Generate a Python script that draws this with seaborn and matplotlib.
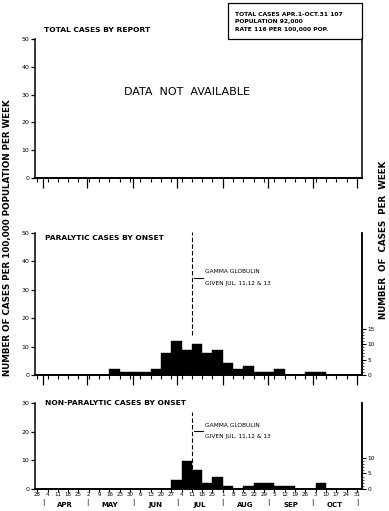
import numpy as np
import pandas as pd
import matplotlib
matplotlib.use("Agg")
import matplotlib.pyplot as plt
import seaborn as sns
from matplotlib.patches import Rectangle
from matplotlib.ticker import MultipleLocator, FixedLocator

sns.set_theme(style="white")
plt.rcParams["font.family"] = ["DejaVu Sans"]
plt.rcParams.update({"text.color": "black", "axes.labelcolor": "black",
                     "xtick.color": "black", "ytick.color": "black"})

# ---------------- data ----------------
week_labels = ["28", "4", "11", "18", "25", "2", "9", "16", "23", "30", "6", "13",
               "20", "27", "4", "11", "18", "25", "1", "8", "15", "22", "29", "5",
               "12", "19", "26", "3", "10", "17", "24", "31"]
month_names = ["APR", "MAY", "JUN", "JUL", "AUG", "SEP", "OCT"]
month_start_days = [4, 34, 65, 95, 126, 157, 187, 217]   # days after Mar 28
week_start_days = [0, 7, 14, 21, 28, 35, 42, 49, 56, 63, 70, 77, 84, 91, 98, 105,
                   112, 119, 126, 133, 140, 147, 154, 161, 168, 175, 182, 189,
                   196, 203, 210]
paralytic_cases = [0, 0, 0, 0, 0, 0, 0, 2, 1, 1, 1, 2, 7, 11, 8, 10, 7, 8, 4, 2,
                   3, 1, 1, 2, 0, 0, 1, 1, 0, 0, 0]
nonparalytic_cases = [0, 0, 0, 0, 0, 0, 0, 0, 0, 0, 0, 0, 0, 3, 9, 6, 2, 4, 1, 0,
                      1, 2, 2, 1, 1, 0, 0, 2, 0, 0, 0]
population = 92000
gamma_day = 105   # Jul 11
box_lines = ["TOTAL CASES APR.1-OCT.31 107", "POPULATION 92,000",
             "RATE 116 PER 100,000 POP."]

df = pd.DataFrame({
    "day": week_start_days,
    "paralytic": np.array(paralytic_cases) * 100000 / population,
    "nonparalytic": np.array(nonparalytic_cases) * 100000 / population,
})

W, H = 389, 511
fig = plt.figure(figsize=(W / 100, H / 100), dpi=100)
fig.patch.set_facecolor("white")

def frac_rect(x0, ytop, x1, ybot):
    return [x0 / W, 1 - ybot / H, (x1 - x0) / W, (ybot - ytop) / H]

ax1 = fig.add_axes(frac_rect(35, 39, 362, 178))
ax2 = fig.add_axes(frac_rect(35, 233, 362, 375))
ax3 = fig.add_axes(frac_rect(35, 403, 362, 489))

XL = (-1.5, 220.5)
lw = 1.1

def style_axis(ax, ymax, ystep):
    ax.set_xlim(*XL)
    ax.set_ylim(0, ymax)
    ax.set_facecolor("white")
    ax.spines["top"].set_visible(False)
    for s in ["left", "bottom", "right"]:
        ax.spines[s].set_color("black")
        ax.spines[s].set_linewidth(lw)
    ax.spines["bottom"].set_linewidth(1.4)
    ax.yaxis.set_major_locator(MultipleLocator(ystep))
    ax.tick_params(axis="y", which="major", direction="out", length=3, width=0.9,
                   labelsize=4.5, pad=1, colors="black", left=True, right=False)
    ax.set_xlabel("")
    ax.set_ylabel("")
    ax.grid(False)

def weekly_bars(col, ax):
    sns.histplot(data=df, x="day", weights=col, binwidth=7, binrange=(0, 217),
                 color="black", alpha=1, edgecolor="black", linewidth=0.3, ax=ax)

# panel 1
style_axis(ax1, 50, 10)
ax1.text(0.465, 0.62, "DATA  NOT  AVAILABLE", transform=ax1.transAxes,
         ha="center", va="center", fontsize=8, color="black")
ax1.text(4.5, 1.062, "TOTAL CASES BY REPORT", transform=ax1.get_xaxis_transform(),
         fontsize=5.4, weight="bold", va="center", color="black")

# panel 2
weekly_bars("paralytic", ax2)
style_axis(ax2, 50, 10)
ax2.text(5.5, 0.965, "PARALYTIC CASES BY ONSET", transform=ax2.get_xaxis_transform(),
         fontsize=5.4, weight="bold", va="center", color="black")
ax2.plot([gamma_day, gamma_day], [14, 50.3], ls=(0, (4, 2)), color="black", lw=0.8,
         clip_on=False)
ax2.plot([gamma_day + 1.5, gamma_day + 7.5], [34.2, 34.2], color="black", lw=0.8)
ax2.text(gamma_day + 9, 36.4, "GAMMA GLOBULIN", fontsize=4.2, va="center", color="black")
ax2.text(gamma_day + 9, 32.2, "GIVEN JUL. 11,12 & 13", fontsize=4.2, va="center",
         color="black")

# panel 3
weekly_bars("nonparalytic", ax3)
style_axis(ax3, 30, 10)
ax3.text(5.5, 1.0, "NON-PARALYTIC CASES BY ONSET", transform=ax3.get_xaxis_transform(),
         fontsize=5.4, weight="bold", va="center", color="black")
ax3.plot([gamma_day, gamma_day], [0, 27], ls=(0, (4, 2)), color="black", lw=0.8)
ax3.plot([gamma_day + 1.5, gamma_day + 7.5], [20.2, 20.2], color="black", lw=0.8)
ax3.text(gamma_day + 9, 22.2, "GAMMA GLOBULIN", fontsize=4.2, va="center", color="black")
ax3.text(gamma_day + 9, 18.3, "GIVEN JUL. 11,12 & 13", fontsize=4.2, va="center",
         color="black")

# x ticks
week_ticks = list(range(0, 218, 7))
for ax in (ax1, ax2):
    ax.xaxis.set_major_locator(FixedLocator(month_start_days))
    ax.xaxis.set_minor_locator(FixedLocator(week_ticks))
    ax.tick_params(axis="x", which="major", direction="out", length=7, width=0.9,
                   bottom=True, labelbottom=False, colors="black")
    ax.tick_params(axis="x", which="minor", direction="out", length=3, width=0.8,
                   bottom=True, colors="black")
ax3.set_xticks(week_ticks)
ax3.set_xticklabels(week_labels)
ax3.tick_params(axis="x", which="major", direction="out", length=2, width=0.8,
                bottom=True, labelsize=4, pad=0.5, colors="black")
xt = ax3.get_xaxis_transform()
for d in month_start_days:
    ax3.text(d, -0.155, "|", transform=xt, fontsize=5, ha="center", va="center",
             color="black")
for i, name in enumerate(month_names):
    c = (month_start_days[i] + month_start_days[i + 1]) / 2
    ax3.text(c, -0.19, name, transform=xt, fontsize=5, weight="bold",
             ha="center", va="center", color="black")

# right axes (number of cases)
for ax, ymax, tops in ((ax2, 50, 15), (ax3, 30, 10)):
    r = ax.twinx()
    r.set_ylim(0, ymax * population / 100000)
    r.set_yticks(list(range(0, tops + 1, 5)))
    r.yaxis.set_minor_locator(FixedLocator(list(range(0, tops + 1))))
    r.tick_params(axis="y", which="major", direction="out", length=3, width=0.8,
                  labelsize=4.2, pad=1, colors="black")
    r.tick_params(axis="y", which="minor", direction="out", length=1.5, width=0.5,
                  colors="black")
    for s in ["top", "left", "bottom"]:
        r.spines[s].set_visible(False)
    r.spines["right"].set_linewidth(lw)
    r.spines["right"].set_color("black")
    r.grid(False)
    r.set_ylabel("")

# info box
fig.add_artist(Rectangle((228 / W, 1 - 39 / H), (362 - 228) / W, 36 / H,
                         transform=fig.transFigure, fill=False, lw=0.9,
                         ec="black"))
for i, t in enumerate(box_lines):
    fig.text(235 / W, 1 - (14 + 8 * i) / H, t, fontsize=4.3, weight="bold",
             va="center", color="black")

fig.text(8 / W, 1 - 238 / H, "NUMBER OF CASES PER 100,000 POPULATION PER WEEK",
         rotation=90, ha="center", va="center", fontsize=6.3, weight="bold",
         color="black")
fig.text(383 / W, 1 - 240 / H, "NUMBER  OF  CASES  PER  WEEK",
         rotation=90, ha="center", va="center", fontsize=6.3, weight="bold",
         color="black")

fig.savefig("out.png", dpi=100, facecolor="white")
